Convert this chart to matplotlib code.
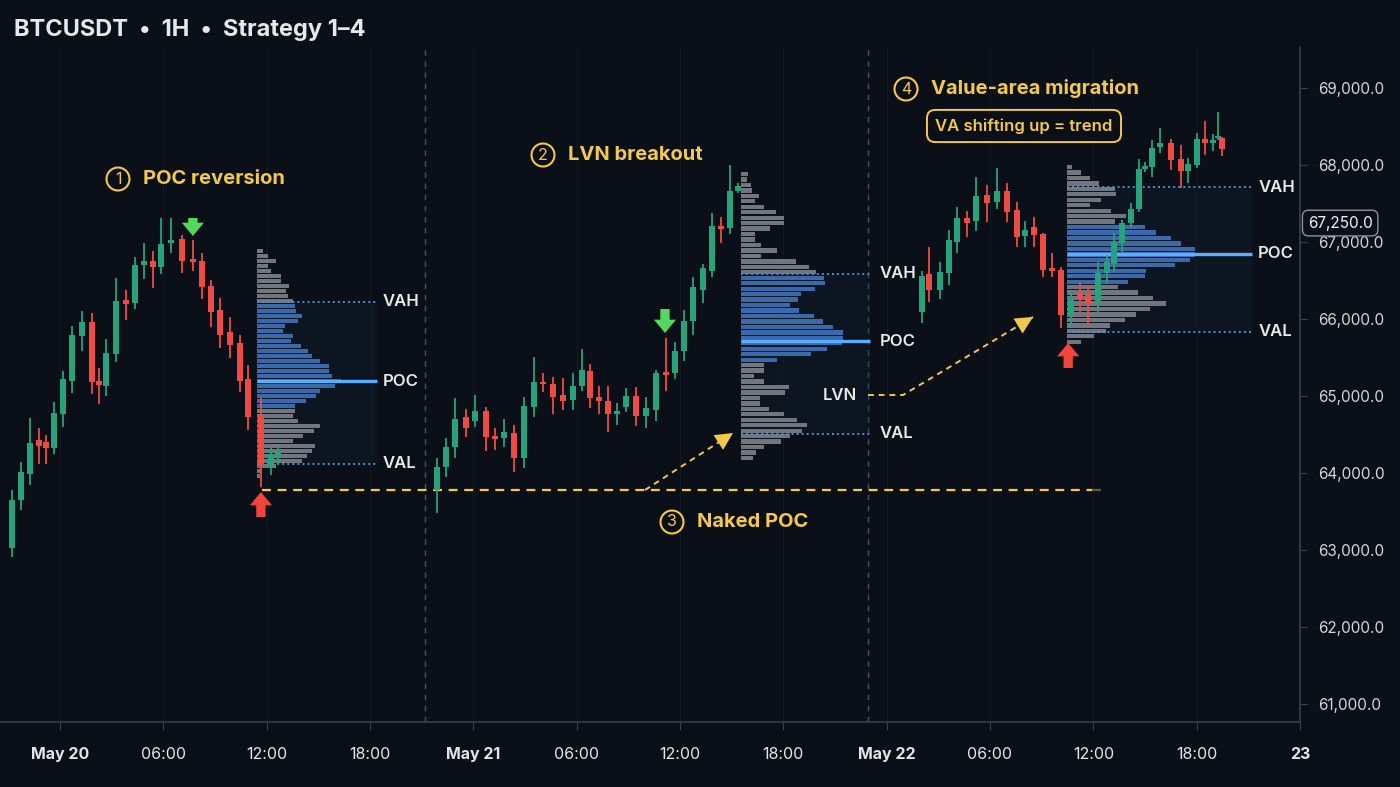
import matplotlib
matplotlib.use("Agg")
import matplotlib.pyplot as plt
import numpy as np
from matplotlib.patches import Rectangle

plt.rcParams['font.family'] = ['Inter', 'DejaVu Sans']

# --- colours ---
BG = '#0b0f17'
UP = '#26a37c'
DOWN = '#ef4b45'
YEL = '#f2c94c'
VA_BLUE = '#3d6fb2'
GREY_BAR = '#787d85'
POC_BLUE = '#5aaeff'
LVL_BLUE = '#4a90e2'
TXT = '#e8eaed'
AXIS = '#3a414b'

# --- candles: time in hours from May 20 00:00, prices in USDT ---
t1 = [-2.79, -2.26, -1.74, -1.22, -0.81, -0.35, 0.17, 0.70, 1.28, 1.86, 2.26, 2.67, 3.25, 3.83, 4.36,
      4.88, 5.40, 5.87, 6.45, 7.08, 7.72, 8.25, 8.77, 9.29, 9.87, 10.45, 10.92, 11.67, 12.25, 12.66]
o1 = [63026, 63650, 63988, 64430, 64404, 64326, 64768, 65197, 65782, 65964, 65197, 65132, 65548, 66250, 66211,
      66705, 66757, 66679, 66991, 67043, 66783, 66757, 66432, 66120, 65834, 65691, 65223, 64755, 64105, 64196]
h1 = [63780, 64144, 64716, 64586, 64495, 64924, 65327, 65912, 66107, 66081, 65366, 65743, 66536, 66380, 66809,
      66991, 66887, 67316, 67316, 67095, 67030, 66861, 66510, 66276, 66029, 65795, 65405, 64976, 64326, 64365]
l1 = [62909, 63520, 63845, 64118, 64118, 64248, 64599, 65041, 65587, 65028, 64898, 65002, 65444, 65990, 66133,
      66523, 66406, 66588, 66861, 66601, 66627, 66263, 65899, 65626, 65496, 65054, 64560, 63819, 63975, 64105]
c1 = [63650, 64014, 64391, 64352, 64326, 64781, 65223, 65795, 65964, 65184, 65145, 65561, 66237, 66198, 66705,
      66757, 66679, 66978, 67030, 66757, 66744, 66419, 66094, 65795, 65665, 65197, 64729, 64105, 64248, 64274]

t2 = [21.89, 22.42, 22.94, 23.58, 24.10, 24.74, 25.26, 25.78, 26.36, 26.95, 27.53, 28.05, 28.63, 29.21, 29.79,
      30.31, 30.78, 31.30, 31.82, 32.35, 32.87, 33.45, 34.03, 34.61, 35.19, 35.71, 36.24, 36.76, 37.34, 37.86,
      38.39, 38.91, 39.37]
o2 = [63780, 64079, 64339, 64729, 64677, 64807, 64482, 64456, 64521, 64196, 64859, 65184, 65158, 65015, 64950,
      65132, 65327, 64989, 64937, 64768, 64859, 65002, 64742, 64820, 65314, 65301, 65587, 65977, 66380, 66627,
      67212, 67186, 67667]
h2 = [64196, 64456, 64976, 64833, 65015, 64859, 64586, 64703, 64625, 64989, 65509, 65301, 65249, 65236, 65301,
      65613, 65418, 65132, 65132, 64911, 65106, 65119, 64989, 65340, 65756, 65704, 66120, 66549, 66718, 67381,
      67329, 68005, 67770]
l2 = [63481, 63949, 64196, 64469, 64599, 64287, 64300, 64339, 64014, 64066, 64729, 65054, 64768, 64820, 64820,
      65067, 64846, 64768, 64534, 64625, 64794, 64612, 64586, 64677, 65067, 65223, 65457, 65795, 66211, 66549,
      66991, 67108, 67640]
c2 = [64079, 64339, 64703, 64586, 64807, 64469, 64443, 64534, 64196, 64872, 65184, 65158, 64989, 64937, 65132,
      65340, 64976, 64937, 64768, 64807, 65002, 64742, 64846, 65301, 65275, 65587, 65977, 66419, 66666, 67212,
      67173, 67667, 67732]

t3 = [50.06, 50.46, 51.10, 51.63, 52.09, 52.67, 53.19, 53.83, 54.41, 54.99, 55.57, 56.04, 56.56, 57.09, 57.61,
      58.13, 58.71, 59.23, 59.70, 60.28, 60.80, 61.21, 61.67, 62.19, 62.66, 63.01, 63.41, 63.88, 64.52, 65.10,
      65.51, 66.03, 66.49, 66.96, 67.25, 67.48]
o3 = [66094, 66588, 66380, 66601, 67004, 67316, 67277, 67615, 67524, 67667, 67420, 67082, 67199, 67108, 66666,
      66640, 66055, 66341, 66315, 66237, 66601, 66718, 66991, 67251, 67433, 67953, 67979, 68239, 68291, 68083,
      67927, 68005, 68343, 68291, 68356, 68356]
h3 = [66627, 66939, 66744, 67160, 67459, 67407, 67849, 67745, 67966, 67771, 67524, 67277, 67329, 67121, 66861,
      66679, 66380, 66471, 66445, 66744, 66835, 67121, 67290, 67511, 68083, 68044, 68330, 68486, 68343, 68265,
      68096, 68421, 68577, 68408, 68694, 68369]
l3 = [65951, 66224, 66263, 66445, 66861, 67069, 67147, 67264, 67433, 67264, 66939, 66939, 66939, 66549, 66549,
      65886, 65886, 66094, 65925, 66094, 66471, 66614, 66874, 67186, 67394, 67914, 67849, 68161, 67940, 67706,
      67771, 67966, 68135, 68187, 68330, 68122]
c3 = [66562, 66380, 66614, 67030, 67316, 67251, 67602, 67511, 67667, 67394, 67069, 67160, 67095, 66640, 66627,
      66055, 66250, 66250, 66211, 66601, 66744, 67004, 67251, 67433, 67953, 67992, 68226, 68291, 68070, 67927,
      68018, 68343, 68291, 68330, 68382, 68213]

# --- volume profiles (top price, bin size, volume per bin top->bottom) ---
p1_top, p1_step = 66887, 65
p1_vol = [6, 11, 19, 11, 14, 24, 24, 32, 29, 31, 36, 38, 39, 45, 41, 28, 26, 36, 34, 44, 51, 55, 63, 72, 72,
          75, 84, 78, 63, 59, 49, 38, 38, 36, 41, 63, 57, 46, 36, 58, 55, 50, 45, 19, 4, 3]
p2_top, p2_step = 67888, 71
p2_vol = [7, 6, 10, 11, 18, 14, 23, 35, 43, 43, 29, 14, 14, 20, 36, 20, 55, 68, 75, 83, 84, 74, 60, 57, 49, 58,
          73, 82, 92, 102, 102, 101, 86, 70, 36, 23, 23, 13, 23, 48, 44, 19, 19, 28, 43, 56, 66, 61, 49, 40, 23,
          15, 12]
p3_top, p3_step = 67979, 71
p3_vol = [5, 14, 23, 32, 48, 49, 34, 23, 44, 59, 48, 78, 89, 104, 114, 128, 128, 123, 108, 79, 78, 61, 51, 71,
          86, 99, 83, 69, 58, 43, 39, 27, 14]

# (start hour, line end hour, VAH, POC, VAL, blue band hi, blue band lo)
p1_lv = (11.44, 18.41, 66224, 65197, 64118, 66211, 64846)
p2_lv = (39.55, 47.04, 66588, 65717, 64508, 66562, 65405)
p3_lv = (58.48, 69.22, 67719, 66848, 65834, 67225, 66471)
lvn_price = 65015
naked_poc = 63780
sessions = [21.20, 46.92]

tick_hours = [0, 6, 12, 18, 24, 30, 36, 42, 48, 54, 60, 66, 72]
tick_labels = ['May 20', '06:00', '12:00', '18:00', 'May 21', '06:00', '12:00', '18:00',
               'May 22', '06:00', '12:00', '18:00', '23']
price_ticks = [61000, 62000, 63000, 64000, 65000, 66000, 67000, 68000, 69000]
last_price = 67250

W, H = 1400, 787
VOL_SCALE = 1 / 17.22   # hours per volume unit

fig = plt.figure(figsize=(14, 7.87), dpi=100, facecolor=BG)
ax = fig.add_axes([0, 1 - 722 / H, 1300 / W, 675 / H], facecolor=BG)
ax.set_xlim(-3.48, 72)
ax.set_ylim(60764, 69539)


def draw_candles(t, o, h, l, c):
    t, o, h, l, c = map(np.asarray, (t, o, h, l, c))
    col = np.where(c >= o, UP, DOWN)
    ax.vlines(t, l, h, colors=col, lw=1.3, zorder=5)
    body = np.maximum(np.abs(c - o), 30)
    ax.bar(t, body, bottom=np.minimum(o, c), width=0.36, color=col, linewidth=0, zorder=6)


def draw_profile(top, step, vols, lv, label_x):
    x0, x1, vah, poc, val, b_hi, b_lo = lv
    vols = np.asarray(vols, float)
    levels = top - step * np.arange(len(vols))
    blue = (levels <= b_hi) & (levels >= b_lo)
    ax.add_patch(Rectangle((x0, val), x1 - x0, vah - val, fc='#13233a', alpha=0.3,
                           ec='none', zorder=1))
    ax.barh(levels, vols * VOL_SCALE, left=x0, height=step * 0.8,
            color=np.where(blue, VA_BLUE, GREY_BAR), alpha=0.95, linewidth=0, zorder=2)
    ax.hlines([vah, val], x0, x1, colors=LVL_BLUE, linestyles=(0, (1, 1.6)), lw=1.4, zorder=3)
    ax.hlines(poc, x0, x1, colors=POC_BLUE, lw=2.4, zorder=3)
    for name, y in (('VAH', vah), ('POC', poc), ('VAL', val)):
        ax.text(label_x, y, name, color=TXT, fontsize=12, fontweight='semibold',
                ha='left', va='center', zorder=7)


# session separators and grid
for s in sessions:
    ax.axvline(s, color='#4a525e', lw=1.0, ls=(0, (4, 4)), zorder=1)
ax.set_xticks(tick_hours)
ax.grid(axis='x', color='#131922', lw=0.9, zorder=0)

draw_profile(p1_top, p1_step, p1_vol, p1_lv, 18.76)
draw_profile(p2_top, p2_step, p2_vol, p2_lv, 47.60)
draw_profile(p3_top, p3_step, p3_vol, p3_lv, 69.57)
ax.text(46.28, lvn_price, 'LVN', color=TXT, fontsize=12, fontweight='semibold',
        ha='right', va='center', zorder=7)

draw_candles(t1, o1, h1, l1, c1)
draw_candles(t2, o2, h2, l2, c2)
draw_candles(t3, o3, h3, l3, c3)

# naked POC and connectors
ax.hlines(naked_poc, 11.73, 59.9, colors=YEL, linestyles=(0, (4, 3)), lw=1.6, zorder=4)
ax.hlines(naked_poc, 59.9, 60.68, colors='#5c5a44', linestyles=(0, (4, 3)), lw=1.6, zorder=4)


def dashed_arrow(pts):
    xs, ys = zip(*pts)
    ax.plot(xs, ys, color=YEL, lw=1.4, ls=(0, (3, 2.5)), zorder=4)
    ax.annotate('', xy=pts[-1], xytext=pts[-2],
                arrowprops=dict(arrowstyle='-|>,head_length=0.7,head_width=0.35', color=YEL,
                                lw=0, shrinkA=0, shrinkB=0, mutation_scale=18),
                zorder=4)


dashed_arrow([(33.97, naked_poc), (39.08, 64521)])
dashed_arrow([(46.92, lvn_price), (48.95, lvn_price), (56.50, 66029)])


def block_arrow(x, tail, tip, color):
    ax.annotate('', xy=(x, tip), xytext=(x, tail),
                arrowprops=dict(arrowstyle='simple,head_length=0.6,head_width=1.0,tail_width=0.42',
                                fc=color, ec='none', shrinkA=0, shrinkB=0, mutation_scale=16),
                zorder=8)


block_arrow(7.72, 67316, 67082, '#55d65c')
block_arrow(35.13, 66133, 65821, '#55d65c')
block_arrow(11.67, 63429, 63754, '#f0443c')
block_arrow(58.54, 65366, 65691, '#f0443c')

# axes styling
for side in ('left', 'top'):
    ax.spines[side].set_visible(False)
for side in ('right', 'bottom'):
    ax.spines[side].set_color(AXIS)
    ax.spines[side].set_linewidth(1.2)
ax.yaxis.tick_right()
ax.set_yticks(price_ticks)
ax.set_yticklabels([f'{p:,.1f}' for p in price_ticks])
ax.tick_params(axis='y', colors=AXIS, labelcolor='#d3d6db', labelsize=11, length=5, pad=8)
ax.set_xticklabels(tick_labels)
ax.tick_params(axis='x', colors=AXIS, labelcolor='#e3e5e8', labelsize=11.5, length=6, pad=12)
for lab in ax.get_xticklabels():
    if not lab.get_text().startswith(('0', '1')):
        lab.set_fontweight('bold')

ax.text(1.006, last_price, f'{last_price:,.1f}', transform=ax.get_yaxis_transform(),
        color='#f0f2f5', fontsize=11, ha='left', va='center', zorder=9, clip_on=False,
        bbox=dict(boxstyle='round,pad=0.35,rounding_size=0.4', fc=BG, ec='#8a929e', lw=1))

# titles and strategy notes
fig.text(14 / W, 1 - 30 / H, 'BTCUSDT  •  1H  •  Strategy 1–4', color='#e6e8eb',
         fontsize=17, fontweight='bold', ha='left', va='center')


def step_label(px, py, num, text):
    fig.text(px / W, 1 - py / H, num, color=YEL, fontsize=11.5, ha='center', va='center',
             bbox=dict(boxstyle='circle,pad=0.25', fc='none', ec=YEL, lw=1.5))
    fig.text((px + 25) / W, 1 - py / H, text, color=YEL, fontsize=14.5,
             fontweight='bold', ha='left', va='center')


step_label(118, 179, '1', 'POC reversion')
step_label(543, 155, '2', 'LVN breakout')
step_label(672, 522, '3', 'Naked POC')
step_label(906, 89, '4', 'Value-area migration')
fig.text(1024 / W, 1 - 126 / H, 'VA shifting up = trend', color=YEL, fontsize=12,
         fontweight='semibold', ha='center', va='center',
         bbox=dict(boxstyle='round,pad=0.5,rounding_size=0.5', fc=BG, ec=YEL, lw=1.4))

fig.savefig('out.png', dpi=100, facecolor=BG)
